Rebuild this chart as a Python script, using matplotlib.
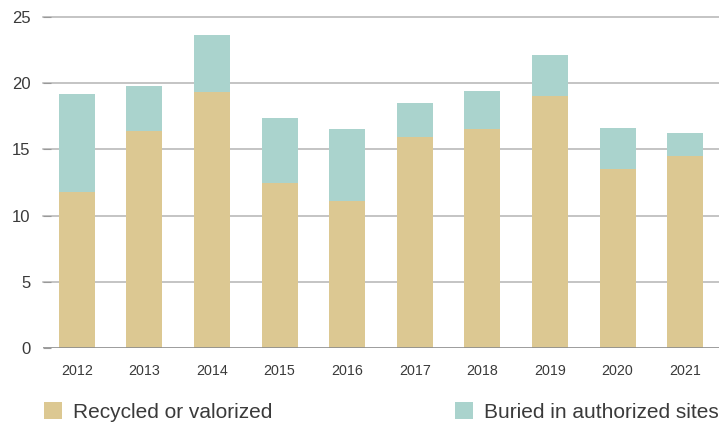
import matplotlib
matplotlib.use("Agg")
import matplotlib.pyplot as plt
import numpy as np

# Data
years = ["2012", "2013", "2014", "2015", "2016", "2017", "2018", "2019", "2020", "2021"]
recycled = [11.8, 16.4, 19.35, 12.5, 11.1, 15.9, 16.5, 19.05, 13.5, 14.5]
buried = [7.4, 3.4, 4.25, 4.9, 5.4, 2.6, 2.9, 3.1, 3.1, 1.75]
yticks = [0, 5, 10, 15, 20, 25]

col_rec = "#dcc892"
col_bur = "#aad3cd"
txt_col = "#3a3a3a"

plt.rcParams["font.family"] = ["Liberation Sans", "DejaVu Sans"]

fig = plt.figure(figsize=(7.19, 4.24), dpi=100)
ax = fig.add_axes([43 / 719, 1 - 348.3 / 424, 1 - 43 / 719, (348.3 - 16.7) / 424])

x = np.arange(len(years))
b1 = ax.bar(x, recycled, width=0.53, color=col_rec, zorder=2, label="Recycled or valorized")
b2 = ax.bar(x, buried, width=0.53, bottom=recycled, color=col_bur, zorder=2,
            label="Buried in authorized sites")

ax.set_xlim(-0.5, 9.5)
ax.set_ylim(0, 25)
ax.set_yticks(yticks)
ax.set_xticks(x)
ax.set_xticklabels(years)

# Horizontal gridlines
for yv in yticks[1:]:
    ax.axhline(yv, color="#b4b4b4", linewidth=1.1, zorder=1, clip_on=False)
ax.axhline(0, color="#8c8c8c", linewidth=1.2, zorder=3)

for s in ax.spines.values():
    s.set_visible(False)

ax.tick_params(axis="y", length=6, direction="in", color="#999999", pad=9,
               labelsize=12, labelcolor=txt_col)
ax.tick_params(axis="x", length=0, pad=11, labelsize=10.3, labelcolor=txt_col)

# Legend entries placed separately under the plot
leg_kw = dict(loc="center left", frameon=False, fontsize=15, handlelength=0.87,
              handleheight=0.87, handletextpad=0.53, borderpad=0, borderaxespad=0,
              labelcolor=txt_col)
fig.legend(handles=[b1], bbox_to_anchor=(44 / 719, 1 - 412 / 424), **leg_kw)
fig.legend(handles=[b2], bbox_to_anchor=(455 / 719, 1 - 412 / 424), **leg_kw)

fig.savefig("out.png", dpi=100)
